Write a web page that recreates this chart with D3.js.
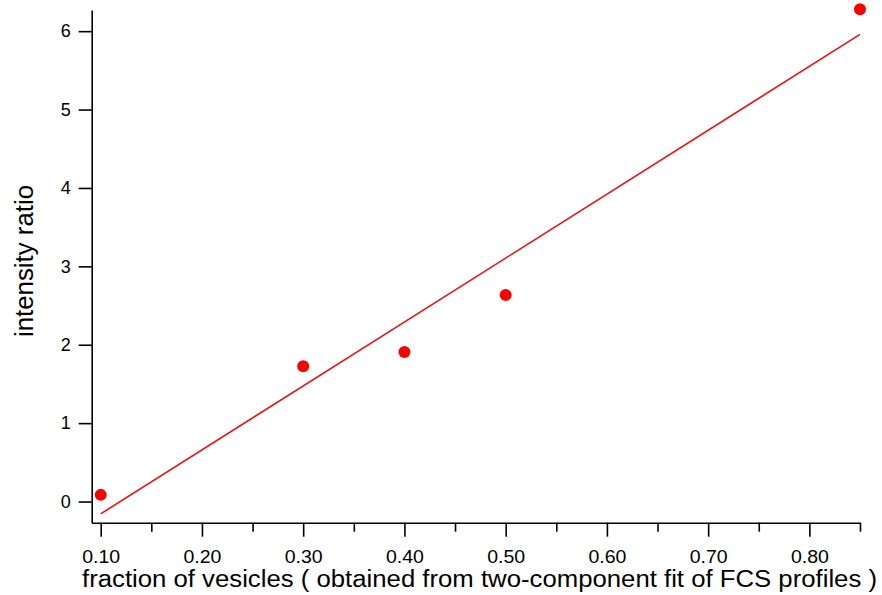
<!DOCTYPE html>
<html>
<head>
<meta charset="utf-8">
<script src="https://cdn.jsdelivr.net/npm/d3@7"></script>
<style>
    html, body { margin: 0; padding: 0; background: #fff; }
    svg { display: block; font-family: "Liberation Sans", Arial, sans-serif; }
</style>
</head>
<body>
<div id="chart"></div>
<script>
// measured points
const fraction = [0.10, 0.30, 0.40, 0.50, 0.85];
const intensity = [0.085, 1.726, 1.908, 2.635, 6.28];

// linear fit drawn in red
const fitX = [0.10, 0.85];
const fitY = [-0.157, 5.96];

const xTicks = [0.10, 0.20, 0.30, 0.40, 0.50, 0.60, 0.70, 0.80];
const xMinorTicks = [0.15, 0.25, 0.35, 0.45, 0.55, 0.65, 0.75, 0.85];
const yTicks = [0, 1, 2, 3, 4, 5, 6];

const width = 882,
    height = 595;

const svg = d3
    .select('#chart')
    .append('svg')
    .attr('width', width)
    .attr('height', height);

// scales set so the axes land where the reference has them
const x = d3.scaleLinear().domain([0.0911, 0.85]).range([91.7, 860]);
const y = d3.scaleLinear().domain([-0.27, 6.27]).range([522.7, 10]);

// x axis: major ticks with labels, minor ticks without
svg.append('g')
    .attr('class', 'xaxis')
    .attr('transform', `translate(0,${y.range()[0]})`)
    .call(
        d3.axisBottom(x)
            .tickValues(xTicks)
            .tickFormat(d3.format('.2f'))
            .tickSize(14)
            .tickSizeOuter(0)
            .tickPadding(14)
    );
svg.append('g')
    .attr('transform', `translate(0,${y.range()[0]})`)
    .call(
        d3.axisBottom(x)
            .tickValues(xMinorTicks)
            .tickFormat('')
            .tickSize(9)
            .tickSizeOuter(0)
    )
    .select('.domain')
    .remove();

svg.append('g')
    .attr('class', 'yaxis')
    .attr('transform', `translate(${x.range()[0]},0)`)
    .call(
        d3.axisLeft(y)
            .tickValues(yTicks)
            .tickFormat(d3.format('d'))
            .tickSize(13)
            .tickSizeOuter(0)
            .tickPadding(8)
    );

svg.selectAll('.domain, .tick line')
    .attr('stroke', '#000')
    .attr('stroke-width', 1.6);
svg.selectAll('.tick text')
    .attr('fill', '#000')
    .style('font-size', '18px')
    .style('font-family', '"Liberation Sans", Arial, sans-serif');
// the reference glyphs are a little wider than Arial
svg.selectAll('.xaxis .tick text')
    .attr('textLength', 38)
    .attr('lengthAdjust', 'spacingAndGlyphs');

// fit line
const fitData = fitX.map((d, i) => [d, fitY[i]]);
svg.append('path')
    .datum(fitData)
    .attr('fill', 'none')
    .attr('stroke', '#e8141a')
    .attr('stroke-width', 1.6)
    .attr('d', d3.line().x((d) => x(d[0])).y((d) => y(d[1])));

// data markers
svg.selectAll('circle.pt')
    .data(fraction.map((d, i) => [d, intensity[i]]))
    .enter()
    .append('circle')
    .attr('class', 'pt')
    .attr('cx', (d) => x(d[0]))
    .attr('cy', (d) => y(d[1]))
    .attr('r', 6)
    .attr('fill', '#ff0000');

// axis titles
svg.append('text')
    .attr('x', 82)
    .attr('y', 587)
    .attr('textLength', 795)
    .attr('lengthAdjust', 'spacingAndGlyphs')
    .style('font-size', '23px')
    .text('fraction of vesicles ( obtained from two-component fit of FCS profiles )');

svg.append('text')
    .attr('transform', 'translate(33,337) rotate(-90)')
    .attr('textLength', 152)
    .attr('lengthAdjust', 'spacingAndGlyphs')
    .style('font-size', '26px')
    .text('intensity ratio');
</script>
</body>
</html>
